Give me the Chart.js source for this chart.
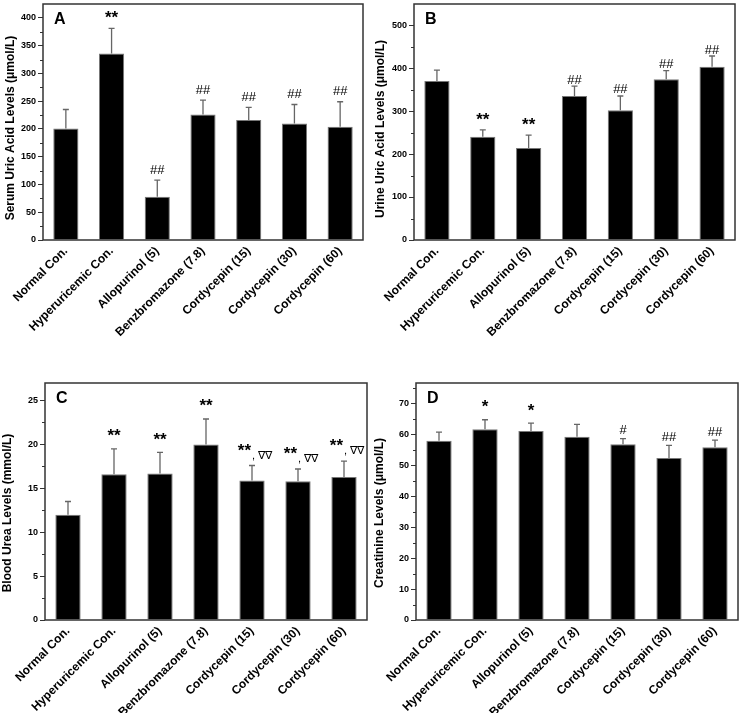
<!DOCTYPE html>
<html>
<head>
<meta charset="utf-8">
<script src="https://cdn.jsdelivr.net/npm/chart.js@4"></script>
<style>
  body { margin: 0; background: #fff; }
  .panel { position: absolute; }
</style>
</head>
<body>
<div class="panel" style="left:0;top:0"><canvas id="chartA" width="371" height="360"></canvas></div>
<div class="panel" style="left:371px;top:0"><canvas id="chartB" width="372" height="360"></canvas></div>
<div class="panel" style="left:0;top:360px"><canvas id="chartC" width="371" height="353"></canvas></div>
<div class="panel" style="left:371px;top:360px"><canvas id="chartD" width="372" height="353"></canvas></div>
<script>
"use strict";

// groups (dose in mg/kg)
const groups = ["Normal Con.", "Hyperuricemic Con.", "Allopurinol (5)", "Benzbromazone (7.8)",
  "Cordycepin (15)", "Cordycepin (30)", "Cordycepin (60)"];

// A - serum uric acid
const serumUA = [201, 336, 78, 226, 216, 210, 204];
const serumUAErr = [34, 45, 30, 26, 23, 34, 45];
const serumUAMarks = ["", "**", "##", "##", "##", "##", "##"];

// B - urine uric acid
const urineUA = [370, 240, 214, 335, 302, 374, 403];
const urineUAErr = [25, 16, 30, 23, 33, 20, 25];
const urineUAMarks = ["", "**", "**", "##", "##", "##", "##"];

// C - blood urea
const bloodUrea = [12.0, 16.6, 16.7, 20.0, 15.9, 15.8, 16.3];
const bloodUreaErr = [1.5, 2.9, 2.4, 2.9, 1.7, 1.4, 1.8];
const bloodUreaMarks = ["", "**", "**", "**", "**", "**", "**"];
const bloodUreaMarks2 = ["", "", "", "", ", \u2207\u2207", ", \u2207\u2207", ", \u2207\u2207"];

// D - creatinine
const creatinine = [58.0, 61.7, 61.2, 59.3, 56.9, 52.4, 55.9];
const creatinineErr = [2.8, 3.1, 2.5, 4.0, 1.8, 4.1, 2.3];
const creatinineMarks = ["", "*", "*", "", "#", "##", "##"];

const FONT = "'Liberation Sans', Arial, sans-serif";

// error bars, significance marks, frame, minor ticks, axis title
const extrasPlugin = {
  id: "extras",
  afterDatasetsDraw(chart) {
    const opts = chart.options.plugins.extras;
    const ctx = chart.ctx;
    const xs = chart.scales.x;
    const ys = chart.scales.y;
    const area = chart.chartArea;
    ctx.save();

    for (let i = 0; i < opts.values.length; i++) {
      const cx = xs.getPixelForValue(i);
      const yb = ys.getPixelForValue(opts.values[i]);
      const yt = ys.getPixelForValue(opts.values[i] + opts.errors[i]);

      // error bar, upper half only
      ctx.strokeStyle = "#666";
      ctx.lineWidth = 1.3;
      ctx.beginPath();
      ctx.moveTo(cx, yb);
      ctx.lineTo(cx, yt);
      ctx.moveTo(cx - 3, yt);
      ctx.lineTo(cx + 3, yt);
      ctx.stroke();

      const mark = opts.marks[i];
      const extra = opts.marks2 ? opts.marks2[i] : "";
      ctx.fillStyle = "#000";
      ctx.textBaseline = "alphabetic";
      if (mark) {
        const isStar = mark.indexOf("*") >= 0;
        let base;
        if (isStar) {
          ctx.font = "bold 17px " + FONT;
          base = yt - (extra ? opts.starGap + 2 : opts.starGap) + 9.7;
        } else {
          ctx.font = "13px " + FONT;
          base = yt - opts.hashGap + 4.5;
        }
        if (extra) {
          ctx.textAlign = "right";
          ctx.fillText(mark, cx - 1, base);
        } else {
          ctx.textAlign = "center";
          ctx.fillText(mark, cx, base);
        }
      }
      if (extra) {
        ctx.font = "11px " + FONT;
        ctx.textAlign = "left";
        ctx.fillText(extra, cx, yt - 7);
      }
    }

    // panel letter
    ctx.fillStyle = "#000";
    ctx.font = "bold 16px " + FONT;
    ctx.textAlign = "left";
    ctx.textBaseline = "middle";
    ctx.fillText(opts.letter, area.left + 11, area.top + 16);

    // y axis title
    ctx.save();
    ctx.translate(opts.titleX, opts.titleY);
    ctx.rotate(-Math.PI / 2);
    ctx.font = "bold 12px " + FONT;
    ctx.textAlign = "center";
    ctx.textBaseline = "middle";
    ctx.fillText(opts.title, 0, 0);
    ctx.restore();

    // minor ticks
    ctx.strokeStyle = "#333";
    ctx.lineWidth = 1;
    for (let v = opts.minor; v < ys.max; v += opts.major) {
      const py = Math.round(ys.getPixelForValue(v)) + 0.5;
      ctx.beginPath();
      ctx.moveTo(area.left - 3, py);
      ctx.lineTo(area.left, py);
      ctx.stroke();
    }

    // frame
    ctx.strokeStyle = "#333";
    ctx.lineWidth = 1.5;
    ctx.strokeRect(area.left, area.top, area.right - area.left, area.bottom - area.top);
    ctx.restore();
  }
};

function makePanel(id, cfg) {
  const canvas = document.getElementById(id);
  return new Chart(canvas, {
    type: "bar",
    data: {
      labels: groups,
      datasets: [{
        data: cfg.values,
        backgroundColor: "#000",
        borderColor: "#777",
        borderWidth: 1,
        barPercentage: 0.55,
        categoryPercentage: 1.0
      }]
    },
    options: {
      responsive: false,
      animation: false,
      layout: { padding: { top: cfg.padTop, right: cfg.padRight, left: 0, bottom: 0 } },
      plugins: {
        legend: { display: false },
        tooltip: { enabled: false },
        extras: {
          values: cfg.values,
          errors: cfg.errors,
          marks: cfg.marks,
          marks2: cfg.marks2,
          letter: cfg.letter,
          title: cfg.title,
          titleX: cfg.titleX,
          titleY: cfg.titleY,
          major: cfg.step,
          minor: cfg.step / 2,
          starGap: cfg.starGap,
          hashGap: cfg.hashGap
        }
      },
      scales: {
        x: {
          grid: { display: false },
          border: { display: false },
          ticks: {
            autoSkip: false,
            minRotation: 45,
            maxRotation: 45,
            padding: -4,
            color: "#000",
            font: { family: FONT, size: 12, weight: "bold" }
          },
          afterFit: s => {
            s.height = cfg.xHeight;
            s.paddingLeft = 0;
            s.paddingRight = 0;
          }
        },
        y: {
          min: 0,
          max: cfg.max,
          border: { display: false },
          grid: { drawOnChartArea: false, drawTicks: true, tickLength: 5, color: "#333" },
          ticks: {
            stepSize: cfg.step,
            padding: 2,
            color: "#000",
            font: { family: FONT, size: 9, weight: "bold" }
          },
          afterBuildTicks: axis => {
            axis.ticks = axis.ticks.filter(t => Math.abs(t.value / cfg.step - Math.round(t.value / cfg.step)) < 1e-6);
          },
          afterFit: s => {
            s.width = cfg.yWidth;
            s.paddingTop = 0;
            s.paddingBottom = 0;
          }
        }
      }
    },
    plugins: [extrasPlugin]
  });
}

makePanel("chartA", {
  values: serumUA, errors: serumUAErr, marks: serumUAMarks, letter: "A",
  title: "Serum Uric Acid Levels (\u03bcmol/L)", titleX: 11, titleY: 128, max: 425, step: 50,
  padTop: 4, padRight: 8, xHeight: 120, yWidth: 43, starGap: 15, hashGap: 11
});

makePanel("chartB", {
  values: urineUA, errors: urineUAErr, marks: urineUAMarks, letter: "B",
  title: "Urine Uric Acid Levels (\u03bcmol/L)", titleX: 10, titleY: 129, max: 549, step: 100,
  padTop: 4, padRight: 8, xHeight: 120, yWidth: 43, starGap: 15, hashGap: 7
});

makePanel("chartC", {
  values: bloodUrea, errors: bloodUreaErr, marks: bloodUreaMarks, marks2: bloodUreaMarks2, letter: "C",
  title: "Blood Urea Levels (mmol/L)", titleX: 8, titleY: 153, max: 27, step: 5,
  padTop: 23, padRight: 4, xHeight: 93, yWidth: 45, starGap: 17.5, hashGap: 9
});

makePanel("chartD", {
  values: creatinine, errors: creatinineErr, marks: creatinineMarks, letter: "D",
  title: "Creatinine Levels (\u03bcmol/L)", titleX: 9, titleY: 153, max: 76.7, step: 10,
  padTop: 23, padRight: 5, xHeight: 93, yWidth: 45, starGap: 17, hashGap: 9
});
</script>
</body>
</html>
